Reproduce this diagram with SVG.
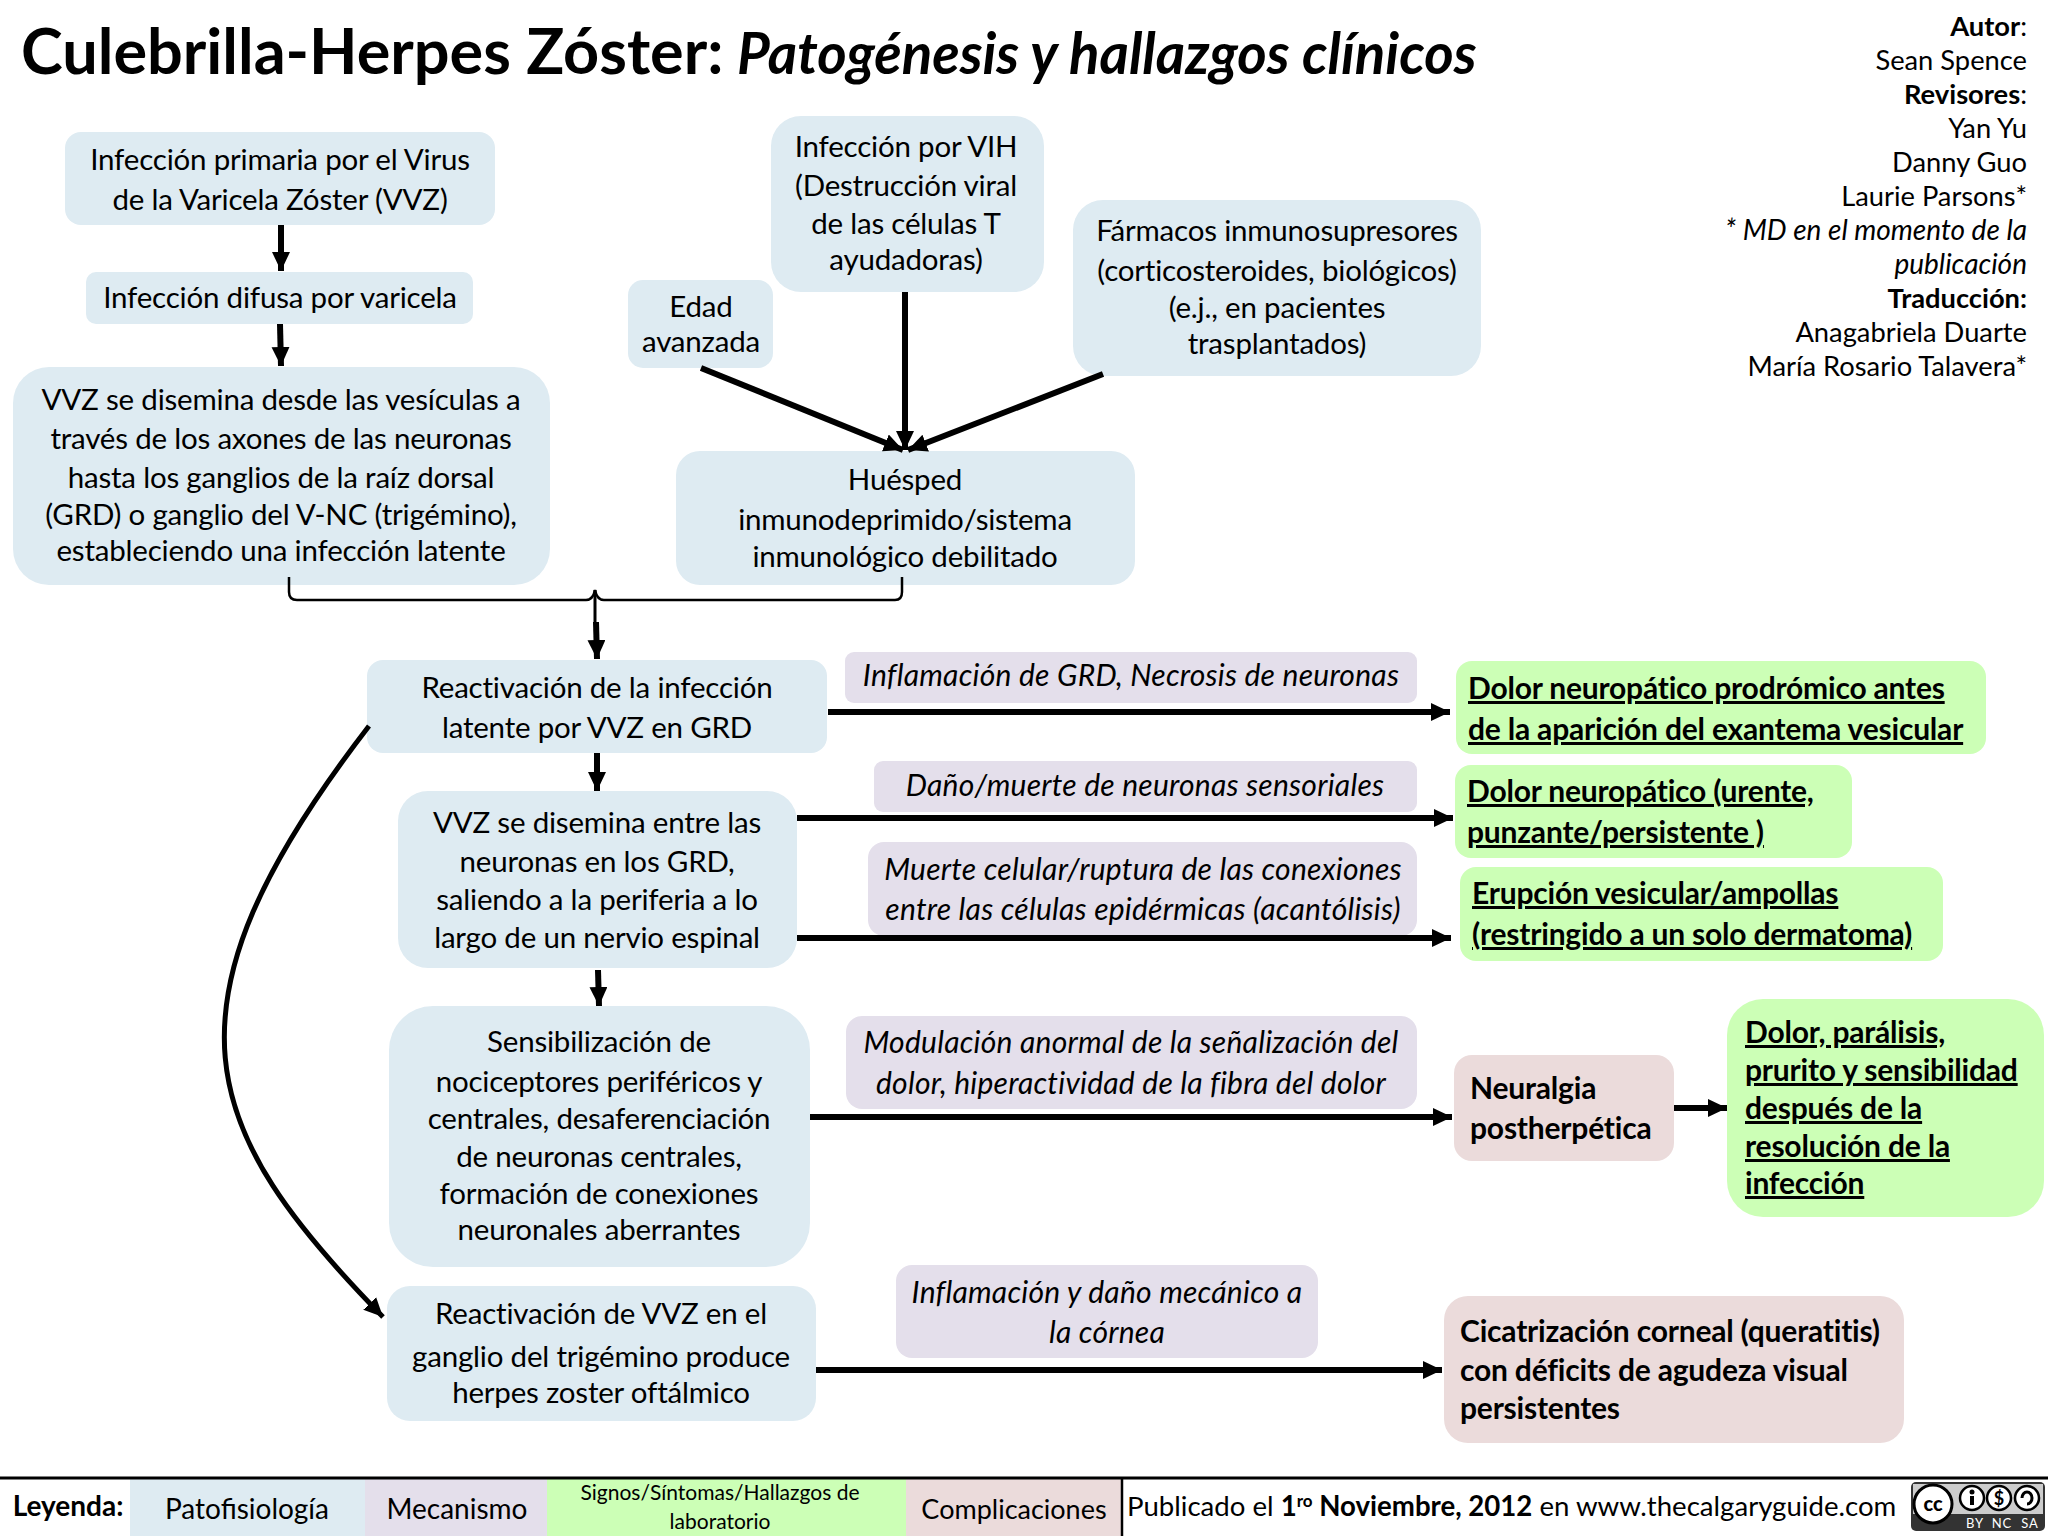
<svg xmlns="http://www.w3.org/2000/svg" width="2048" height="1536" viewBox="0 0 2048 1536">
<style>
text{font-family:"Lato","Carlito","Liberation Sans",sans-serif;font-size:29.5px;letter-spacing:-.2px;fill:#000;text-anchor:middle}
.b{fill:#deebf2}.m{fill:#e4dfeb}.g{fill:#ccffb6}.p{fill:#ebdbdb}
.it{font-style:italic;font-size:30px;letter-spacing:.25px}
.gt{font-weight:700;font-size:30px;letter-spacing:-.2px;text-decoration:underline;text-anchor:start}
.pt{font-weight:700;font-size:30px;letter-spacing:-.2px;text-anchor:start}
.r{font-size:27.3px;letter-spacing:0;text-anchor:end}
.r.it{font-size:28px;letter-spacing:0}
.lg{font-size:28px;letter-spacing:0}
.ln{fill:none;stroke:#000;stroke-width:6}
</style>
<defs><marker id="ah" markerUnits="userSpaceOnUse" markerWidth="20" markerHeight="20" refX="19" refY="9" orient="auto"><path d="M0 0L19 9L0 18z" fill="#000"/></marker></defs>
<rect width="2048" height="1536" fill="#fff"/>
<g id="title"><text x="21" y="74" style="text-anchor:start;font-size:63px;font-weight:700;letter-spacing:0">Culebrilla-Herpes Zóster:</text><text x="737" y="74" class="it" style="text-anchor:start;font-size:56.4px;font-weight:700;letter-spacing:0">Patogénesis y hallazgos clínicos</text></g>
<g id="authors">
<text class="r" x="2027" y="36"><tspan font-weight="700">Autor</tspan>:</text>
<text class="r" x="2027" y="70">Sean Spence</text>
<text class="r" x="2027" y="104"><tspan font-weight="700">Revisores</tspan>:</text>
<text class="r" x="2027" y="138">Yan Yu</text>
<text class="r" x="2027" y="172">Danny Guo</text>
<text class="r" x="2027" y="206">Laurie Parsons*</text>
<text class="r it" x="2027" y="240">* MD en el momento de la</text>
<text class="r it" x="2027" y="274">publicación</text>
<text class="r" x="2027" y="308" font-weight="700">Traducción:</text>
<text class="r" x="2027" y="342">Anagabriela Duarte</text>
<text class="r" x="2027" y="376">María Rosario Talavera*</text>
</g>
<g id="n1"><rect class="b" x="65" y="132" width="430" height="93" rx="16"/><text x="280" y="170">Infección primaria por el Virus</text><text x="280" y="210">de la Varicela Zóster (VVZ)</text></g>
<g id="n2"><rect class="b" x="86" y="272" width="387" height="52" rx="10"/><text x="280" y="308">Infección difusa por varicela</text></g>
<g id="n3"><rect class="b" x="13" y="367" width="537" height="218" rx="36"/><text x="281" y="410">VVZ se disemina desde las vesículas a</text><text x="281" y="449">través de los axones de las neuronas</text><text x="281" y="488">hasta los ganglios de la raíz dorsal</text><text x="281" y="525">(GRD) o ganglio del V-NC (trigémino),</text><text x="281" y="561">estableciendo una infección latente</text></g>
<g id="n4"><rect class="b" x="628" y="280" width="145" height="88" rx="15"/><text x="701" y="317">Edad</text><text x="701" y="352">avanzada</text></g>
<g id="n5"><rect class="b" x="771" y="116" width="273" height="176" rx="30"/><text x="906" y="157">Infección por VIH</text><text x="906" y="196">(Destrucción viral</text><text x="906" y="234">de las células T</text><text x="906" y="270">ayudadoras)</text></g>
<g id="n6"><rect class="b" x="1073" y="200" width="408" height="176" rx="30"/><text x="1277" y="241">Fármacos inmunosupresores</text><text x="1277" y="281">(corticosteroides, biológicos)</text><text x="1277" y="318">(e.j., en pacientes</text><text x="1277" y="354">trasplantados)</text></g>
<g id="n7"><rect class="b" x="676" y="451" width="459" height="134" rx="24"/><text x="905" y="490">Huésped</text><text x="905" y="530">inmunodeprimido/sistema</text><text x="905" y="567">inmunológico debilitado</text></g>
<g id="n8"><rect class="b" x="367" y="660" width="460" height="93" rx="16"/><text x="597" y="698">Reactivación de la infección</text><text x="597" y="738">latente por VVZ en GRD</text></g>
<g id="n9"><rect class="b" x="398" y="791" width="399" height="177" rx="30"/><text x="597" y="833">VVZ se disemina entre las</text><text x="597" y="872">neuronas en los GRD,</text><text x="597" y="910">saliendo a la periferia a lo</text><text x="597" y="948">largo de un nervio espinal</text></g>
<g id="n10"><rect class="b" x="389" y="1006" width="421" height="261" rx="44"/><text x="599" y="1052">Sensibilización de</text><text x="599" y="1092">nociceptores periféricos y</text><text x="599" y="1129">centrales, desaferenciación</text><text x="599" y="1167">de neuronas centrales,</text><text x="599" y="1204">formación de conexiones</text><text x="599" y="1240">neuronales aberrantes</text></g>
<g id="n11"><rect class="b" x="387" y="1286" width="429" height="135" rx="23"/><text x="601" y="1324">Reactivación de VVZ en el</text><text x="601" y="1367">ganglio del trigémino produce</text><text x="601" y="1403">herpes zoster oftálmico</text></g>
<g id="m1"><rect class="m" x="845" y="652" width="572" height="51" rx="9"/><text class="it" x="1131" y="686">Inflamación de GRD, Necrosis de neuronas</text></g>
<g id="m2"><rect class="m" x="874" y="761" width="543" height="51" rx="9"/><text class="it" x="1145" y="796">Daño/muerte de neuronas sensoriales</text></g>
<g id="m3"><rect class="m" x="868" y="842" width="549" height="94" rx="16"/><text class="it" x="1143" y="880">Muerte celular/ruptura de las conexiones</text><text class="it" x="1143" y="920">entre las células epidérmicas (acantólisis)</text></g>
<g id="m4"><rect class="m" x="846" y="1016" width="571" height="93" rx="16"/><text class="it" x="1131" y="1053">Modulación anormal de la señalización del</text><text class="it" x="1131" y="1094">dolor, hiperactividad de la fibra del dolor</text></g>
<g id="m5"><rect class="m" x="896" y="1265" width="422" height="93" rx="16"/><text class="it" x="1107" y="1303">Inflamación y daño mecánico a</text><text class="it" x="1107" y="1343">la córnea</text></g>
<g id="s1"><rect class="g" x="1456" y="661" width="530" height="93" rx="16"/><text class="gt" x="1468" y="699">Dolor neuropático prodrómico antes</text><text class="gt" x="1468" y="740">de la aparición del exantema vesicular</text></g>
<g id="s2"><rect class="g" x="1455" y="765" width="397" height="93" rx="16"/><text class="gt" x="1467" y="802">Dolor neuropático (urente,</text><text class="gt" x="1467" y="843">punzante/persistente )</text></g>
<g id="s3"><rect class="g" x="1460" y="867" width="483" height="94" rx="16"/><text class="gt" x="1472" y="904">Erupción vesicular/ampollas</text><text class="gt" x="1472" y="945">(restringido a un solo dermatoma)</text></g>
<g id="c1"><rect class="p" x="1454" y="1055" width="220" height="106" rx="18"/><text class="pt" x="1470" y="1099">Neuralgia</text><text class="pt" x="1470" y="1139">postherpética</text></g>
<g id="s4"><rect class="g" x="1727" y="999" width="317" height="218" rx="36"/><text class="gt" x="1745" y="1043">Dolor, parálisis,</text><text class="gt" x="1745" y="1081">prurito y sensibilidad</text><text class="gt" x="1745" y="1119">después de la</text><text class="gt" x="1745" y="1157">resolución de la</text><text class="gt" x="1745" y="1194">infección</text></g>
<g id="c2"><rect class="p" x="1444" y="1296" width="460" height="147" rx="24"/><text class="pt" x="1460" y="1342">Cicatrización corneal (queratitis)</text><text class="pt" x="1460" y="1381">con déficits de agudeza visual</text><text class="pt" x="1460" y="1419">persistentes</text></g>
<g id="connectors">
<path class="ln" d="M281 225V271" marker-end="url(#ah)"/>
<path class="ln" d="M280 324L281 366" marker-end="url(#ah)"/>
<path class="ln" d="M701 368L903 450" marker-end="url(#ah)"/>
<path class="ln" d="M905 292V450" marker-end="url(#ah)"/>
<path class="ln" d="M1103 374L908 450" marker-end="url(#ah)"/>
<path d="M289 577V592Q289 600 297 600H586Q593 600 595 590Q597 600 604 600H895Q902 600 902 592V577" fill="none" stroke="#000" stroke-width="2.5"/>
<path d="M595 590V623" fill="none" stroke="#000" stroke-width="3"/>
<path class="ln" d="M596 622L597 659" marker-end="url(#ah)"/>
<path class="ln" d="M597 753V791" marker-end="url(#ah)"/>
<path class="ln" d="M598 970L599 1006" marker-end="url(#ah)"/>
<path class="ln" style="stroke-width:5" d="M369 726C150 1010 200 1130 383 1317" marker-end="url(#ah)"/>
<path class="ln" d="M828 712H1450" marker-end="url(#ah)"/>
<path class="ln" d="M797 818H1453" marker-end="url(#ah)"/>
<path class="ln" d="M797 938H1451" marker-end="url(#ah)"/>
<path class="ln" d="M810 1117H1452" marker-end="url(#ah)"/>
<path class="ln" d="M816 1370H1442" marker-end="url(#ah)"/>
<path class="ln" d="M1674 1108H1727" marker-end="url(#ah)"/>
</g>
<g id="legend">
<rect x="130" y="1479" width="235" height="57" class="b"/><rect x="365" y="1479" width="182" height="57" class="m"/><rect x="547" y="1479" width="359" height="57" class="g"/><rect x="906" y="1479" width="216" height="57" class="p"/>
<path d="M0 1478H2048" stroke="#000" stroke-width="3"/><path d="M1122 1478V1536" stroke="#000" stroke-width="2.5"/>
<text class="lg" x="68" y="1516" font-weight="700">Leyenda:</text><text class="lg" x="247" y="1519">Patofisiología</text><text class="lg" x="457" y="1519">Mecanismo</text><text x="720" y="1500" style="font-size:21px;letter-spacing:0">Signos/Síntomas/Hallazgos de</text><text x="720" y="1529" style="font-size:21px;letter-spacing:0">laboratorio</text><text x="1014" y="1519" style="font-size:27px;letter-spacing:0">Complicaciones</text>
<text x="1127" y="1516" style="text-anchor:start;font-size:27.6px;letter-spacing:0">Publicado el <tspan font-weight="700">1</tspan><tspan font-weight="700" font-size="17" dy="-9">ro</tspan><tspan font-weight="700" dy="9"> Noviembre, 2012</tspan> en www.thecalgaryguide.com</text>
</g>
<g id="cc-badge"><rect x="1911" y="1482" width="134" height="49" rx="5" fill="#333"/><rect x="1913" y="1484" width="130" height="30" fill="#ccc"/><circle cx="1933" cy="1504" r="19" fill="#fff" stroke="#000" stroke-width="3"/><text x="1933" y="1511" style="font-size:20px;font-weight:900;letter-spacing:0">cc</text>
<circle cx="1972" cy="1498" r="12" fill="#fff" stroke="#000" stroke-width="2.5"/><circle cx="1972" cy="1492" r="2.5"/><path d="M1972 1496V1505" stroke="#000" stroke-width="4"/>
<circle cx="1999" cy="1498" r="12" fill="#fff" stroke="#000" stroke-width="2.5"/><text x="1999" y="1505" style="font-size:18px;font-weight:700;letter-spacing:0">$</text>
<circle cx="2027" cy="1498" r="12" fill="#fff" stroke="#000" stroke-width="2.5"/><path d="M2022 1498A5 6 0 1 1 2027 1504" fill="none" stroke="#000" stroke-width="3"/>
<text x="1975" y="1528" style="font-size:13px;fill:#fff;letter-spacing:1px">BY</text><text x="2002" y="1528" style="font-size:13px;fill:#fff;letter-spacing:1px">NC</text><text x="2030" y="1528" style="font-size:13px;fill:#fff;letter-spacing:1px">SA</text></g>
</svg>
